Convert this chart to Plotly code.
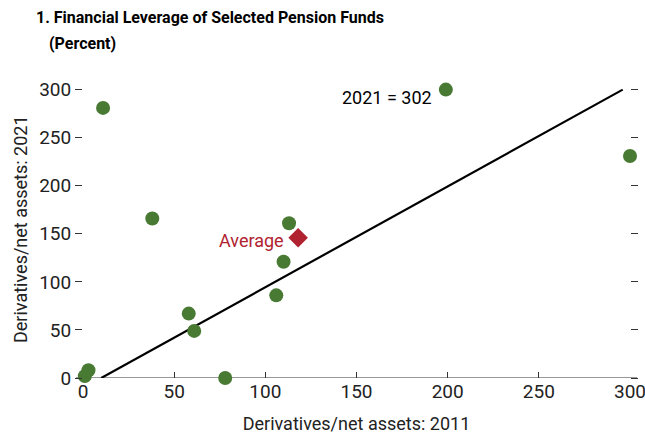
import plotly.graph_objects as go

FONT = "Roboto, sans-serif"

# fund-level leverage (derivatives / net assets, percent)
lev_2011 = [1, 3, 11, 38, 58, 61, 78, 106, 110, 113, 199, 300]
lev_2021 = [2, 8, 281, 166, 67, 49, 0, 86, 121, 161, 300, 231]

avg_2011 = [118]
avg_2021 = [146]

# reference line
line_x = [10, 296]
line_y = [0, 300]

green = "#497A34"
red = "#B0222F"

fig = go.Figure()

fig.add_trace(go.Scatter(
    x=line_x, y=line_y, mode="lines",
    line=dict(color="black", width=2.2),
    hoverinfo="skip", cliponaxis=False,
))

fig.add_trace(go.Scatter(
    x=lev_2011, y=lev_2021, mode="markers",
    marker=dict(color=green, size=14),
    cliponaxis=False,
))

fig.add_trace(go.Scatter(
    x=avg_2011, y=avg_2021, mode="markers",
    marker=dict(color=red, size=15, symbol="diamond"),
    cliponaxis=False,
))

# x axis baseline extends a little past both ends
fig.add_shape(type="line", xref="paper", yref="y",
              x0=-0.013, x1=1.013, y0=0, y1=0,
              line=dict(color="#333333", width=1.2), layer="below")

fig.add_annotation(x=lev_2011[10], y=lev_2021[10], text="2021 = 302",
                   showarrow=False, xanchor="right", xshift=-12, yshift=-8,
                   font=dict(size=18, color="black", family=FONT))
fig.add_annotation(x=avg_2011[0], y=avg_2021[0], text="Average",
                   showarrow=False, xanchor="right", xshift=-12, yshift=-3,
                   font=dict(size=18, color=red, family=FONT))

# two-line heading
fig.add_annotation(xref="paper", yref="paper", x=-49 / 547, y=1 + 62 / 298,
                   xanchor="left", yanchor="middle", showarrow=False,
                   text="<b>1. Financial Leverage of Selected Pension Funds</b>",
                   font=dict(size=16, color="black", family=FONT))
fig.add_annotation(xref="paper", yref="paper", x=-36 / 547, y=1 + 36 / 298,
                   xanchor="left", yanchor="middle", showarrow=False,
                   text="<b>(Percent)</b>",
                   font=dict(size=16, color="black", family=FONT))

# y axis title placed by hand
fig.add_annotation(xref="paper", yref="paper", x=-63 / 547, y=0.5,
                   xanchor="center", yanchor="middle", showarrow=False,
                   textangle=-90, text="Derivatives/net assets: 2021",
                   font=dict(size=18, color="#222222", family=FONT))

fig.update_layout(
    width=645, height=441,
    margin=dict(l=83, r=15, t=80, b=63),
    paper_bgcolor="white", plot_bgcolor="white",
    showlegend=False,
    font=dict(family=FONT, size=18, color="#222222"),
    xaxis=dict(
        range=[0, 300], tickvals=[0, 50, 100, 150, 200, 250, 300],
        showgrid=False, zeroline=False, showline=False, automargin=False,
        ticks="inside", ticklen=6, tickcolor="#333333",
        tickfont=dict(size=19), ticklabeloverflow="allow",
        title=dict(text="Derivatives/net assets: 2011", standoff=15,
                   font=dict(size=18)),
    ),
    yaxis=dict(
        range=[0, 310], tickvals=[0, 50, 100, 150, 200, 250, 300],
        showgrid=False, zeroline=False, showline=False, automargin=False,
        ticks="outside", ticklen=7, tickcolor="#333333", mirror="ticks",
        tickfont=dict(size=19),
    ),
)

# drop the default page margin so the figure fills the window exactly
fig.write_html("out.html", config={"displayModeBar": False},
               post_script="document.body.style.margin='0';")
